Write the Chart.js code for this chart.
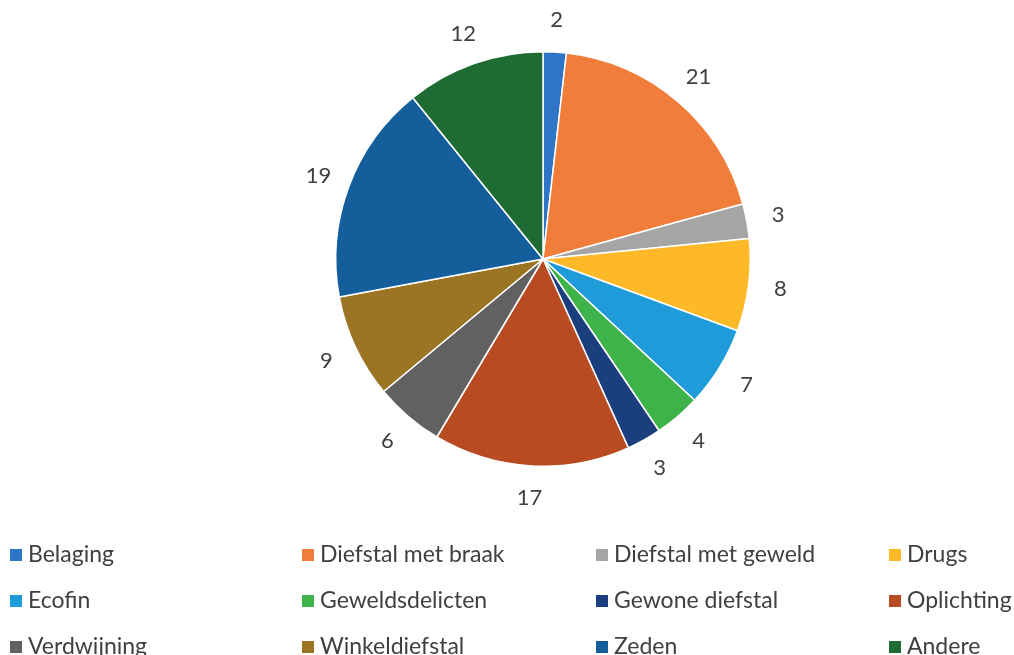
<!DOCTYPE html>
<html>
<head>
<meta charset="utf-8">
<script src="https://cdn.jsdelivr.net/npm/chart.js@4"></script>
<style>
  html, body { margin: 0; padding: 0; background: #ffffff; overflow: hidden; }
  #wrap { position: relative; width: 1014px; height: 655px; }
  #c { position: absolute; left: 0; top: 0; }
  .leg { position: absolute; font-family: Lato, "Open Sans", sans-serif; font-size: 23px; color: #404040; white-space: nowrap; line-height: 26px; }
  .leg span.sw { display: inline-block; width: 12px; height: 12px; margin-right: 6px; vertical-align: 1px; }
</style>
</head>
<body>
<div id="wrap">
  <canvas id="c" width="1014" height="655"></canvas>
</div>
<script>
const categories = ["Belaging", "Diefstal met braak", "Diefstal met geweld", "Drugs", "Ecofin", "Geweldsdelicten", "Gewone diefstal", "Oplichting", "Verdwijning", "Winkeldiefstal", "Zeden", "Andere"];
const values = [2, 21, 3, 8, 7, 4, 3, 17, 6, 9, 19, 12];
const colors = ["#2E75C8", "#F07E3A", "#A5A5A5", "#FDB927", "#1F9BDA", "#3DB34A", "#1B3F7E", "#B84B22", "#616161", "#9B7424", "#145E9C", "#1E6B34"];

const labelPlugin = {
  id: 'outLabels',
  afterDatasetsDraw(chart) {
    const ctx = chart.ctx;
    const meta = chart.getDatasetMeta(0);
    ctx.save();
    ctx.font = '22px Lato, "Open Sans", sans-serif';
    ctx.fillStyle = '#404040';
    ctx.textAlign = 'center';
    ctx.textBaseline = 'middle';
    meta.data.forEach((arc, i) => {
      const p = arc.getProps(['x', 'y', 'startAngle', 'endAngle', 'outerRadius'], true);
      const mid = (p.startAngle + p.endAngle) / 2;
      const r = p.outerRadius + 32;
      ctx.fillText(String(chart.data.datasets[0].data[i]), p.x + Math.cos(mid) * r, p.y + Math.sin(mid) * r);
    });
    ctx.restore();
  }
};

const chart = new Chart(document.getElementById('c'), {
  type: 'pie',
  data: {
    labels: categories,
    datasets: [{ data: values, backgroundColor: colors, borderColor: '#ffffff', borderWidth: 1.5 }]
  },
  options: {
    responsive: false,
    animation: false,
    layout: { padding: { top: 51, bottom: 188, left: 335, right: 263 } },
    plugins: { legend: { display: false }, tooltip: { enabled: false } }
  },
  plugins: [labelPlugin]
});

// HTML legend built from chart data
const colX = [10, 302, 596, 889];
const rowY = [540, 586, 632];
const wrap = document.getElementById('wrap');
chart.data.labels.forEach((lab, i) => {
  const d = document.createElement('div');
  d.className = 'leg';
  d.style.left = colX[i % 4] + 'px';
  d.style.top = rowY[Math.floor(i / 4)] + 'px';
  d.innerHTML = '<span class="sw" style="background:' + chart.data.datasets[0].backgroundColor[i] + '"></span>' + lab;
  wrap.appendChild(d);
});
</script>
</body>
</html>
